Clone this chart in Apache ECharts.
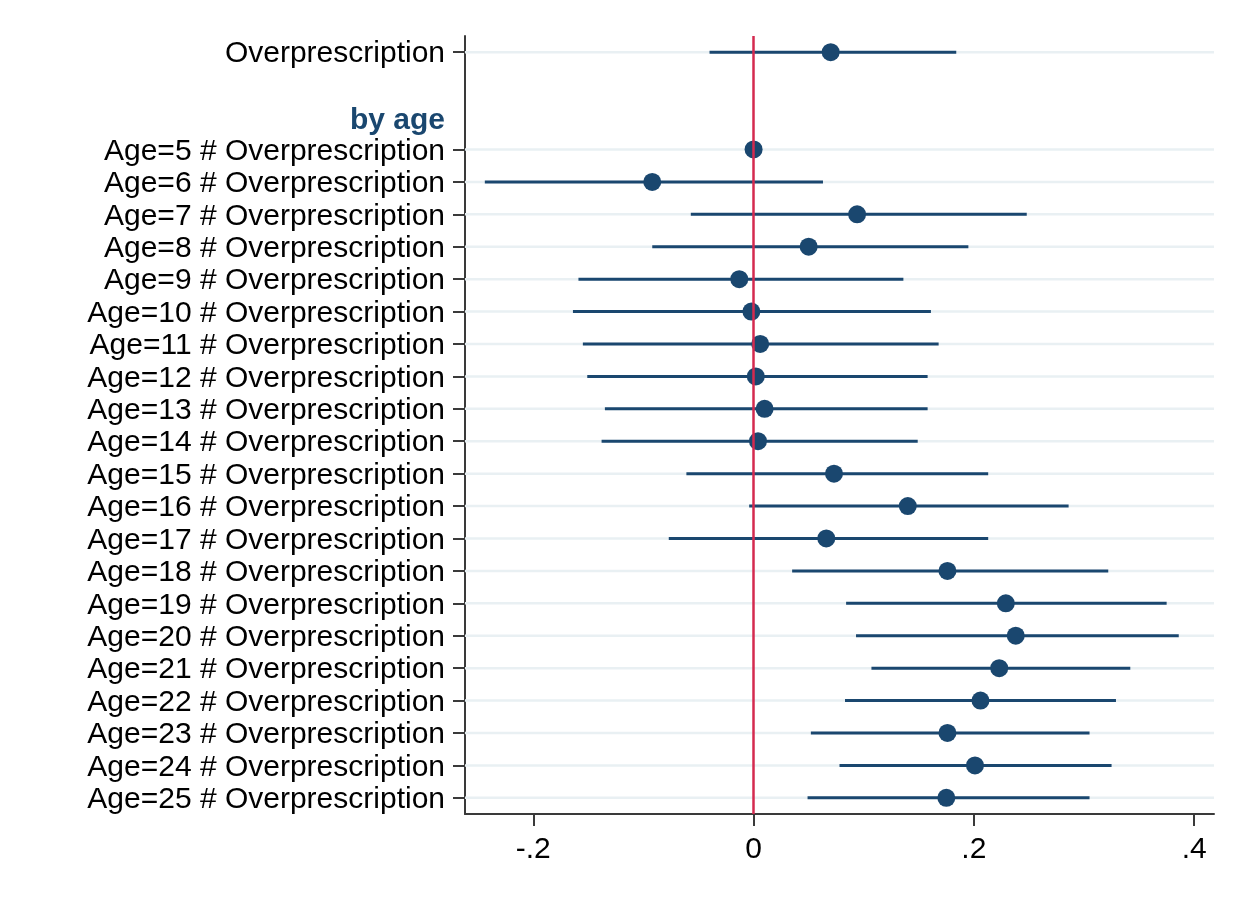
<!DOCTYPE html>
<html>
<head>
<meta charset="utf-8">
<title>Overprescription by age</title>
<script src="https://cdn.jsdelivr.net/npm/echarts@6/dist/echarts.min.js"></script>
<style>
  html, body { margin: 0; padding: 0; background: #fff; }
  #chart { width: 1245px; height: 903px; }
</style>
</head>
<body>
<div id="chart"></div>
<script>
// rows from top to bottom
const ages = [5, 6, 7, 8, 9, 10, 11, 12, 13, 14, 15, 16, 17, 18, 19, 20, 21, 22, 23, 24, 25]
const categories = ['Overprescription', '', 'by age'].concat(ages.map(a => 'Age=' + a + ' # Overprescription'))

// point estimates, null where the row has no estimate
const coef = [0.070, null, null,
  0, -0.092, 0.094, 0.050, -0.013, -0.002, 0.006, 0.002, 0.010, 0.004,
  0.073, 0.140, 0.066, 0.176, 0.229, 0.238, 0.223, 0.206, 0.176, 0.201, 0.175]
// 95% CI
const ciLow = [-0.040, null, null,
  null, -0.244, -0.057, -0.092, -0.159, -0.164, -0.155, -0.151, -0.135, -0.138,
  -0.061, -0.004, -0.077, 0.035, 0.084, 0.093, 0.107, 0.083, 0.052, 0.078, 0.049]
const ciHigh = [0.184, null, null,
  null, 0.063, 0.248, 0.195, 0.136, 0.161, 0.168, 0.158, 0.158, 0.149,
  0.213, 0.286, 0.213, 0.322, 0.375, 0.386, 0.342, 0.329, 0.305, 0.325, 0.305]

const xTicks = [-0.2, 0, 0.2, 0.4]
const xMin = -0.262
const xMax = 0.418

const navy = '#1a476f'
const axisGray = '#3a3a3a'
const font = "'Liberation Sans', Arial, Helvetica, sans-serif"

const rowIdx = categories.map((c, i) => i).filter(i => coef[i] !== null)
const ciData = rowIdx.filter(i => ciLow[i] !== null).map(i => [ciLow[i], ciHigh[i], i])
const pointData = rowIdx.map(i => [coef[i], i])

const fmtTick = v => {
  if (v === 0) return '0'
  const s = String(Math.round(v * 10) / 10)
  return s.replace('0.', '.')
}

const chart = echarts.init(document.getElementById('chart'))
const option = {
  animation: false,
  backgroundColor: '#fff',
  grid: {
    left: 465,
    right: 31,
    top: 36,
    height: 778
  },
  xAxis: {
    type: 'value',
    min: xMin,
    max: xMax,
    splitLine: { show: false },
    axisLine: { show: true, onZero: false, lineStyle: { color: axisGray, width: 2 } },
    axisTick: {
      show: true,
      customValues: xTicks,
      length: 12,
      lineStyle: { color: axisGray, width: 2 }
    },
    axisLabel: {
      customValues: xTicks,
      formatter: fmtTick,
      fontFamily: font,
      fontSize: 30,
      color: '#000',
      margin: 21
    }
  },
  yAxis: {
    type: 'category',
    inverse: true,
    data: categories,
    axisLine: { show: true, onZero: false, lineStyle: { color: axisGray, width: 2 } },
    axisTick: {
      show: true,
      alignWithLabel: true,
      interval: (i, v) => v !== '' && v !== 'by age',
      length: 12,
      lineStyle: { color: axisGray, width: 2 }
    },
    splitLine: { show: false },
    axisLabel: {
      interval: 0,
      margin: 20,
      padding: [4, 0, 0, 0],
      fontFamily: font,
      fontSize: 30,
      color: '#000',
      formatter: v => v === 'by age' ? '{g|by age}' : v,
      rich: {
        g: { fontFamily: font, fontSize: 30, fontWeight: 'bold', color: navy, padding: [4, 0, 0, 0] }
      }
    }
  },
  series: [
    {
      // light grid lines on rows that carry an estimate
      type: 'custom',
      z: 1,
      silent: true,
      data: rowIdx.map(i => [0, i]),
      encode: { x: 0, y: 1 },
      renderItem: (params, api) => {
        const cs = params.coordSys
        const y = api.coord([0, api.value(1)])[1]
        return {
          type: 'line',
          shape: { x1: cs.x, y1: y, x2: cs.x + cs.width, y2: y },
          style: { stroke: '#e9f0f3', lineWidth: 2.5 }
        }
      }
    },
    {
      // confidence intervals
      type: 'custom',
      z: 2,
      silent: true,
      data: ciData,
      encode: { x: [0, 1], y: 2 },
      renderItem: (params, api) => {
        const p1 = api.coord([api.value(0), api.value(2)])
        const p2 = api.coord([api.value(1), api.value(2)])
        return {
          type: 'line',
          shape: { x1: p1[0], y1: p1[1], x2: p2[0], y2: p2[1] },
          style: { stroke: navy, lineWidth: 3 }
        }
      }
    },
    {
      // reference line at zero
      type: 'scatter',
      z: 3,
      data: [],
      silent: true,
      markLine: {
        silent: true,
        symbol: 'none',
        label: { show: false },
        lineStyle: { color: '#d42a4f', width: 2.5, type: 'solid' },
        data: [{ xAxis: 0 }]
      }
    },
    {
      type: 'scatter',
      z: 4,
      symbol: 'circle',
      symbolSize: 18,
      itemStyle: { color: navy, opacity: 1 },
      data: pointData
    }
  ]
}
chart.setOption(option)
</script>
</body>
</html>
